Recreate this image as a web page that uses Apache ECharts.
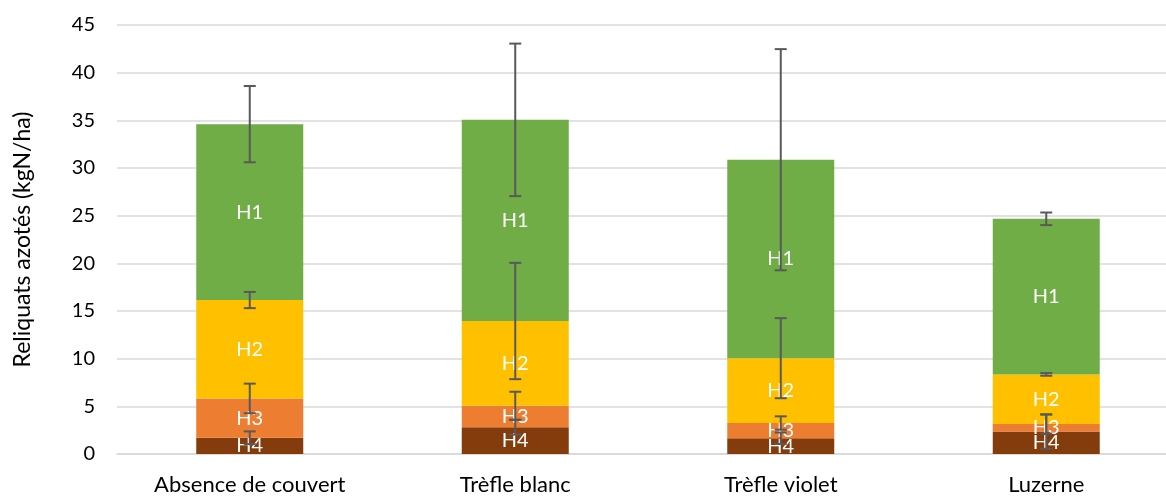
<!DOCTYPE html>
<html>
<head>
<meta charset="utf-8">
<script src="https://cdn.jsdelivr.net/npm/echarts@6/dist/echarts.min.js"></script>
<style>
  html, body { margin: 0; padding: 0; background: #ffffff; overflow: hidden; }
  #chart { width: 1179px; height: 496px; }
</style>
</head>
<body>
<div id="chart"></div>
<script>
// Soil nitrogen residues per cover crop, by soil horizon (kgN/ha)
const categories = ['Absence de couvert', 'Trèfle blanc', 'Trèfle violet', 'Luzerne'];

// Horizon contributions, bottom (H4) to top (H1)
const h4 = [1.7, 2.8, 1.65, 2.35];
const h3 = [4.13, 2.27, 1.6, 0.8];
const h2 = [10.32, 8.88, 6.8, 5.2];
const h1 = [18.45, 21.1, 20.82, 16.32];

// Error bar half-widths, drawn at the top of each horizon segment
const errH4 = [0.67, 0.77, 0.6, 1.8];
const errH3 = [1.55, 1.46, 0.7, 1.0];
const errH2 = [0.85, 6.1, 4.2, 0.14];
const errH1 = [4.0, 8.0, 11.6, 0.66];

const yTicks = { min: 0, max: 45, interval: 5 };

const FONT = 'Lato';
const colors = { H1: '#70AD47', H2: '#FFC000', H3: '#ED7D31', H4: '#843C0C' };

// Stack order bottom-up
const layers = [
  { name: 'H4', data: h4, err: errH4 },
  { name: 'H3', data: h3, err: errH3 },
  { name: 'H2', data: h2, err: errH2 },
  { name: 'H1', data: h1, err: errH1 }
];

// Cumulative tops for each segment, used to place the error bars
const errRows = [];
const running = categories.map(() => 0);
layers.forEach(layer => {
  categories.forEach((c, i) => {
    running[i] += layer.data[i];
    errRows.push([i, running[i], layer.err[i]]);
  });
});

const barSeries = layers.map(layer => ({
  name: layer.name,
  type: 'bar',
  stack: 'total',
  barWidth: 107,
  data: layer.data,
  itemStyle: { color: colors[layer.name] },
  label: {
    show: true,
    position: 'inside',
    formatter: layer.name,
    color: '#ffffff',
    fontFamily: FONT,
    fontSize: 20
  },
  emphasis: { disabled: true },
  z: 2
}));

const errorSeries = {
  type: 'custom',
  data: errRows,
  z: 5,
  silent: true,
  renderItem: function (params, api) {
    const x = api.value(0);
    const y = api.value(1);
    const e = api.value(2);
    const top = api.coord([x, y + e]);
    const bot = api.coord([x, y - e]);
    const half = 6;
    const style = { stroke: '#595959', lineWidth: 2, fill: null };
    return {
      type: 'group',
      children: [
        { type: 'line', shape: { x1: top[0], y1: top[1], x2: bot[0], y2: bot[1] }, style: style },
        { type: 'line', shape: { x1: top[0] - half, y1: top[1], x2: top[0] + half, y2: top[1] }, style: style },
        { type: 'line', shape: { x1: bot[0] - half, y1: bot[1], x2: bot[0] + half, y2: bot[1] }, style: style }
      ]
    };
  }
};

const chart = echarts.init(document.getElementById('chart'), null, { renderer: 'canvas' });
chart.setOption({
  animation: false,
  backgroundColor: '#ffffff',
  grid: { left: 117, right: 0, top: 25, bottom: 41, containLabel: false },
  xAxis: {
    type: 'category',
    data: categories,
    axisTick: { show: false },
    axisLine: { show: true, lineStyle: { color: '#d9d9d9', width: 1.5 } },
    axisLabel: { color: '#000000', fontFamily: FONT, fontSize: 22, margin: 20 }
  },
  yAxis: {
    type: 'value',
    min: yTicks.min,
    max: yTicks.max,
    interval: yTicks.interval,
    name: 'Reliquats azotés (kgN/ha)',
    nameLocation: 'middle',
    nameGap: 83,
    nameTextStyle: { color: '#000000', fontFamily: FONT, fontSize: 23 },
    axisLine: { show: false },
    axisTick: { show: false },
    axisLabel: { color: '#000000', fontFamily: FONT, fontSize: 20, margin: 22 },
    splitLine: { show: true, lineStyle: { color: '#d9d9d9', width: 1.5 } }
  },
  series: barSeries.concat([errorSeries])
});
</script>
</body>
</html>
